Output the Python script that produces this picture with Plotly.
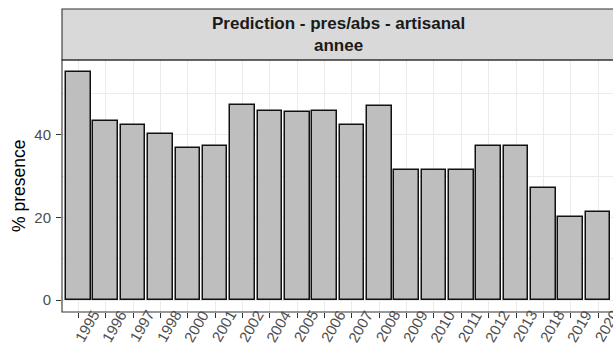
import plotly.graph_objects as go

# Yearly share of presence predicted for the artisanal fishery
years = ["1995", "1996", "1997", "1998", "2000", "2001", "2002", "2004", "2005", "2006",
         "2007", "2008", "2009", "2010", "2011", "2012", "2013", "2018", "2019", "2020"]
presence = [55.3, 43.4, 42.4, 40.3, 36.7, 37.4, 47.3, 45.8, 45.5, 45.8,
            42.4, 47.0, 31.5, 31.5, 31.5, 37.4, 37.4, 27.2, 20.1, 21.3]
y_ticks = [0, 20, 40]
strip_title = "Prediction - pres/abs - artisanal<br>annee"
y_title = "% presence"

W, H = 613, 350
M_L, M_R, M_T, M_B = 62, 0, 9, 37.5
panel_top_px = 60
plot_h = H - M_T - M_B
dom_top = (H - M_B - panel_top_px) / plot_h
plot_w = W - M_L - M_R
px_per_cat = 27.35

FONT = "Liberation Sans, Arial, sans-serif"
GRID = "#EBEBEB"
DARK = "#333333"
TXT = "#4D4D4D"

fig = go.Figure()
fig.add_trace(go.Bar(
    x=years, y=presence, width=0.9,
    marker=dict(color="#BEBEBE", line=dict(color="#111111", width=1.5)),
    hoverinfo="x+y", showlegend=False,
))

x_end = 19.6 - 1.5 / px_per_cat
fig.update_layout(
    width=W, height=H,
    margin=dict(l=M_L, r=M_R, t=M_T, b=M_B, pad=0),
    paper_bgcolor="white", plot_bgcolor="white",
    font=dict(family=FONT, color=TXT),
    bargap=0,
    xaxis=dict(
        type="category", range=[-0.6, x_end],
        showgrid=True, gridcolor=GRID, gridwidth=1.4,
        ticks="outside", ticklen=5, tickcolor=DARK, tickwidth=1.07,
        showticklabels=False, showline=False, zeroline=False,
        domain=[0, 1],
    ),
    yaxis=dict(
        range=[-2.9, 58.1], domain=[0, dom_top],
        tickvals=y_ticks, ticktext=[str(v) for v in y_ticks],
        showgrid=True, gridcolor=GRID, gridwidth=1.4,
        minor=dict(dtick=10, tick0=0, showgrid=True, gridcolor=GRID, gridwidth=0.8),
        ticks="outside", ticklen=5, tickcolor=DARK, tickwidth=1.07,
        tickfont=dict(size=15, color=TXT, family=FONT),
        ticklabelstandoff=2,
        showline=False, zeroline=False,
    ),
)

# panel border
fig.add_shape(type="rect", xref="paper", yref="paper",
              x0=0, x1=1.02, y0=0, y1=dom_top,
              line=dict(color=DARK, width=1.1), fillcolor="rgba(0,0,0,0)", layer="above")
# facet strip
fig.add_shape(type="rect", xref="paper", yref="paper",
              x0=0, x1=1.02, y0=dom_top, y1=1,
              line=dict(color=DARK, width=1.1), fillcolor="#D9D9D9", layer="above")

panel_center_x = ((338.25 - M_L) / plot_w)
fig.add_annotation(xref="paper", yref="paper", x=panel_center_x,
                   y=(dom_top + 1) / 2, text="<b>" + strip_title.replace("<br>", "</b><br><b>") + "</b>",
                   showarrow=False, xanchor="center", yanchor="middle",
                   font=dict(size=17, color="#1A1A1A", family=FONT))

# y-axis title
fig.add_annotation(xref="paper", yref="paper", x=(19 - M_L) / plot_w,
                   y=dom_top / 2, text=y_title, textangle=-90,
                   showarrow=False, xanchor="center", yanchor="middle",
                   font=dict(size=17.5, color="#000000", family=FONT))

# rotated year labels under each category (positioned by category index)
for i, yr in enumerate(years):
    fig.add_annotation(x=i, xref="x", yref="paper", y=0,
                       text=yr, textangle=-60, showarrow=False,
                       xanchor="center", yanchor="middle",
                       xshift=8, yshift=-14,
                       font=dict(size=15, color=TXT, family=FONT))

fig.write_html("out.html")
